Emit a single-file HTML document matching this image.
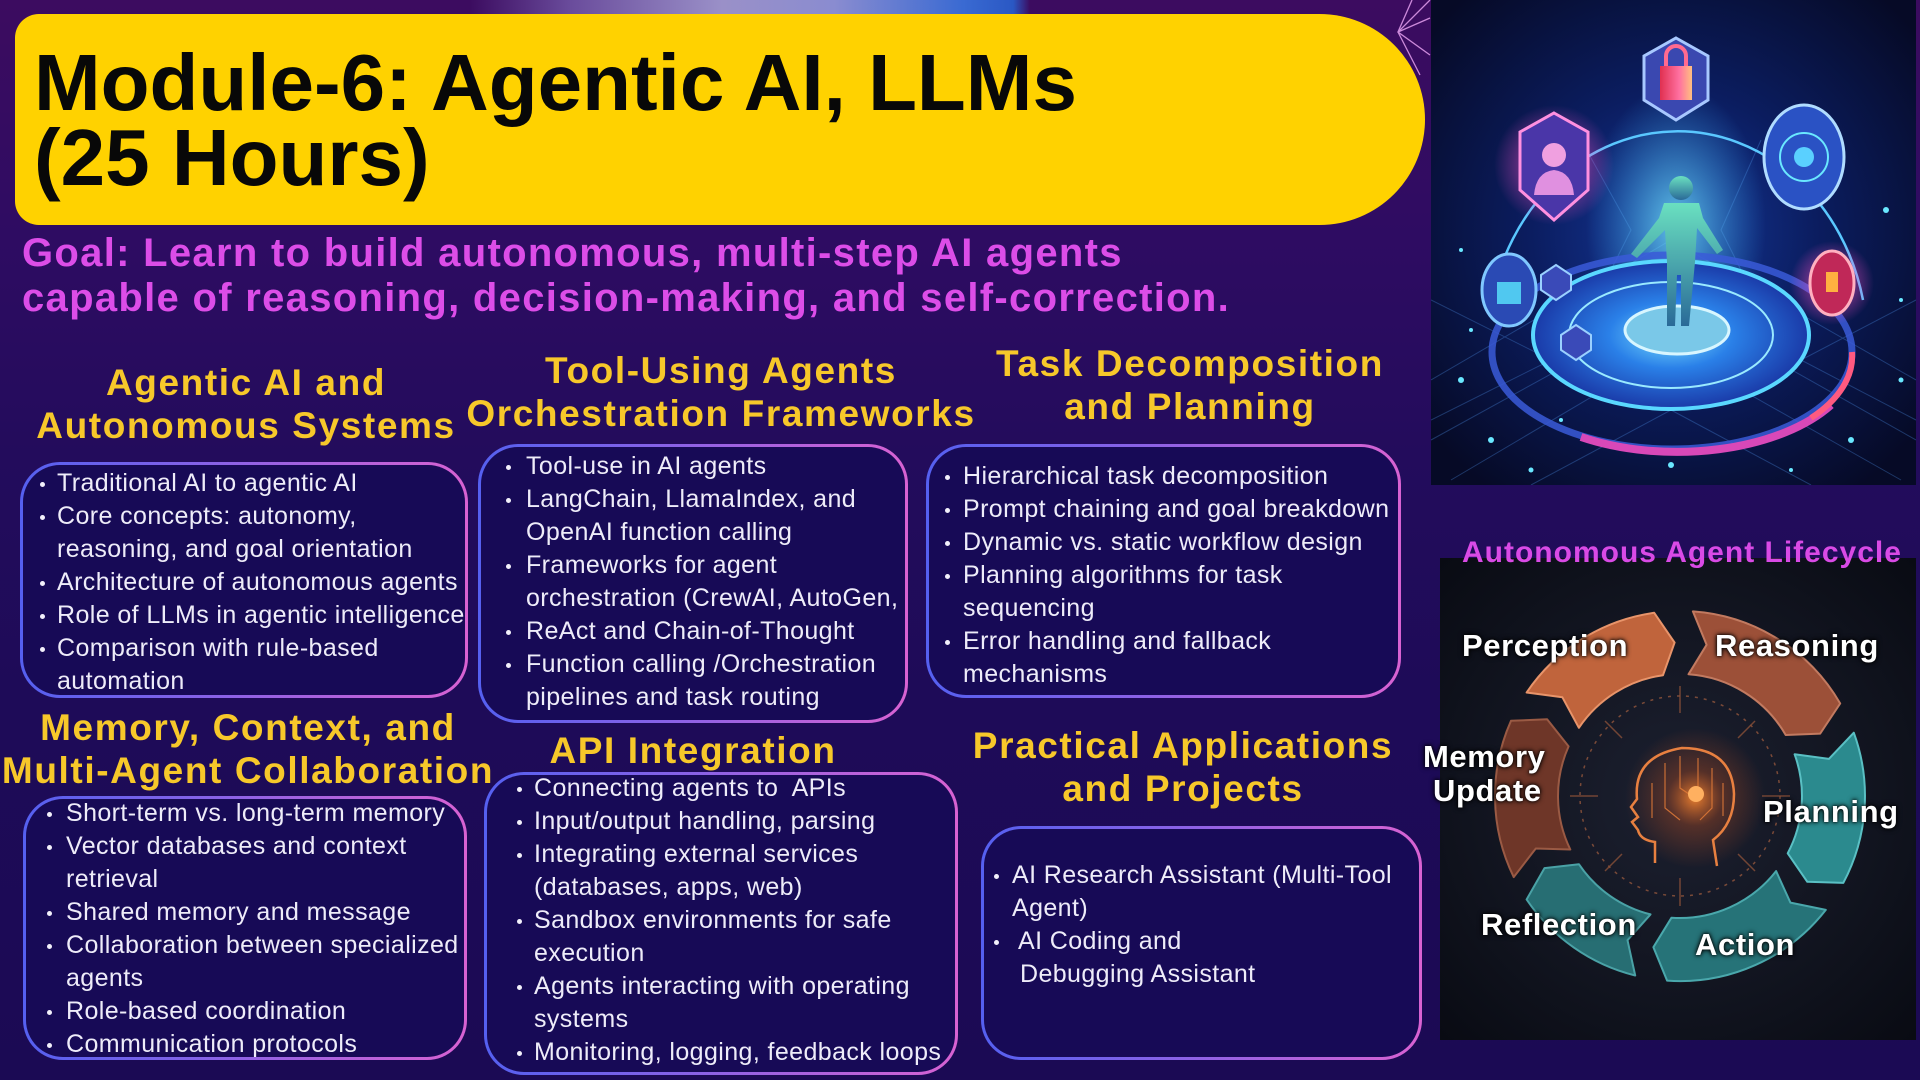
<!DOCTYPE html>
<html><head><meta charset="utf-8">
<style>
*{margin:0;padding:0;box-sizing:border-box}
html,body{width:1920px;height:1080px;overflow:hidden}
body{position:relative;background:linear-gradient(180deg,#3c0c60 0%,#2e0c62 22%,#230c5c 42%,#1e0b58 65%,#1b0a54 100%);font-family:"Liberation Sans",Arial,sans-serif}
.abs{position:absolute}
.glow{left:470px;top:0;width:560px;height:15px;background:linear-gradient(90deg,rgba(80,30,120,0) 0%,#6a4c9c 18%,#9a90c8 45%,#8a8cd0 65%,#3a6ad2 88%,#2a58c4 97%,rgba(70,14,94,0) 100%)}
.banner{left:15px;top:14px;width:1410px;height:211px;background:#ffd200;border-radius:24px 106px 106px 24px}
.title{left:34px;top:45px;font-size:80px;line-height:75px;font-weight:bold;color:#080808;white-space:nowrap}
.goal{left:22px;top:231px;font-size:40px;line-height:45px;font-weight:bold;color:#dc4de8;letter-spacing:1.3px;white-space:nowrap}
.h{width:700px;text-align:center;font-size:37px;line-height:43px;font-weight:bold;color:#f7c82a;letter-spacing:1.6px;white-space:nowrap}
.box{border:3px solid transparent;border-radius:40px;background:linear-gradient(#170a56,#170a56) padding-box,linear-gradient(90deg,#5560f0,#8a62e6 45%,#d862d2) border-box}
.t{font-size:25px;line-height:33px;color:#eeecf9;letter-spacing:0.4px;white-space:nowrap}
.t div{position:relative}
.t .b::before{content:"";position:absolute;left:var(--bl);top:15px;width:5px;height:5px;border-radius:50%;background:#f2f0fb}
.lbl{font-size:31px;line-height:31px;font-weight:bold;color:#fff;letter-spacing:0.6px;white-space:nowrap;text-shadow:0 0 3px #000,0 0 6px #000}
</style></head>
<body>
<div class="abs glow"></div>
<div class="abs banner"></div>
<div class="abs title">Module-6: Agentic AI, LLMs<br>(25 Hours)</div>

<svg class="abs" style="left:1390px;top:0" width="45" height="80" viewBox="0 0 45 80">
<g stroke="#e6a0f0" stroke-width="1.3" fill="none" opacity="0.85">
<path d="M40 0 L8 32 L40 55"/><path d="M8 32 L30 75"/><path d="M40 18 L8 32"/><path d="M22 0 L8 32"/>
</g></svg>

<div class="abs goal">Goal: Learn to build autonomous, multi-step AI agents<br>capable of reasoning, decision-making, and self-correction.</div>

<!-- headings -->
<div class="abs h" style="left:-104px;top:361px">Agentic AI and<br>Autonomous Systems</div>
<div class="abs h" style="left:371px;top:349px">Tool-Using Agents<br>Orchestration Frameworks</div>
<div class="abs h" style="left:840px;top:342px">Task Decomposition<br>and Planning</div>
<div class="abs h" style="left:-102px;top:706px">Memory, Context, and<br>Multi-Agent Collaboration</div>
<div class="abs h" style="left:343px;top:729px">API Integration</div>
<div class="abs h" style="left:833px;top:724px">Practical Applications<br>and Projects</div>

<!-- boxes -->
<div class="abs box" style="left:20px;top:462px;width:448px;height:236px"></div>
<div class="abs box" style="left:478px;top:444px;width:430px;height:279px"></div>
<div class="abs box" style="left:926px;top:444px;width:475px;height:254px"></div>
<div class="abs box" style="left:23px;top:796px;width:444px;height:264px"></div>
<div class="abs box" style="left:484px;top:772px;width:474px;height:303px"></div>
<div class="abs box" style="left:981px;top:826px;width:441px;height:234px"></div>

<div class="abs t" style="left:57px;top:467px;--bl:-17px">
<div class="b">Traditional AI to agentic AI</div>
<div class="b">Core concepts: autonomy,</div>
<div>reasoning, and goal orientation</div>
<div class="b">Architecture of autonomous agents</div>
<div class="b">Role of LLMs in agentic intelligence</div>
<div class="b">Comparison with rule-based</div>
<div>automation</div>
</div>

<div class="abs t" style="left:526px;top:450px;--bl:-20px">
<div class="b">Tool-use in AI agents</div>
<div class="b">LangChain, LlamaIndex, and</div>
<div>OpenAI function calling</div>
<div class="b">Frameworks for agent</div>
<div>orchestration (CrewAI, AutoGen,</div>
<div class="b">ReAct and Chain-of-Thought</div>
<div class="b">Function calling /Orchestration</div>
<div>pipelines and task routing</div>
</div>

<div class="abs t" style="left:963px;top:460px;--bl:-18px">
<div class="b">Hierarchical task decomposition</div>
<div class="b">Prompt chaining and goal breakdown</div>
<div class="b">Dynamic vs. static workflow design</div>
<div class="b">Planning algorithms for task</div>
<div>sequencing</div>
<div class="b">Error handling and fallback</div>
<div>mechanisms</div>
</div>

<div class="abs t" style="left:66px;top:797px;--bl:-19px">
<div class="b">Short-term vs. long-term memory</div>
<div class="b">Vector databases and context</div>
<div>retrieval</div>
<div class="b">Shared memory and message</div>
<div class="b">Collaboration between specialized</div>
<div>agents</div>
<div class="b">Role-based coordination</div>
<div class="b">Communication protocols</div>
</div>

<div class="abs t" style="left:534px;top:772px;--bl:-17px">
<div class="b">Connecting agents to&nbsp; APIs</div>
<div class="b">Input/output handling, parsing</div>
<div class="b">Integrating external services</div>
<div>(databases, apps, web)</div>
<div class="b">Sandbox environments for safe</div>
<div>execution</div>
<div class="b">Agents interacting with operating</div>
<div>systems</div>
<div class="b">Monitoring, logging, feedback loops</div>
</div>

<div class="abs t" style="left:1012px;top:859px;--bl:-18px">
<div class="b">AI Research Assistant (Multi-Tool</div>
<div>Agent)</div>
<div class="b" style="padding-left:6px;--bl:-18px">AI Coding and</div>
<div style="padding-left:8px">Debugging Assistant</div>
</div>

<!-- top-right illustration -->
<svg class="abs" style="left:1431px;top:0" width="485" height="485" viewBox="0 0 485 485">
<defs>
<radialGradient id="ibg" cx="50%" cy="48%" r="65%"><stop offset="0" stop-color="#15389a"/><stop offset="0.45" stop-color="#0b1d60"/><stop offset="1" stop-color="#060a26"/></radialGradient>
<radialGradient id="disk" cx="50%" cy="50%" r="50%"><stop offset="0" stop-color="#7ae0ff"/><stop offset="0.45" stop-color="#2a80e8"/><stop offset="1" stop-color="#1a3aa8"/></radialGradient>
<radialGradient id="beam" cx="50%" cy="50%" r="50%"><stop offset="0" stop-color="#7af0ff" stop-opacity="0.75"/><stop offset="1" stop-color="#3ab0ff" stop-opacity="0"/></radialGradient>
<radialGradient id="pk" cx="50%" cy="50%" r="50%"><stop offset="0" stop-color="#ff50c8" stop-opacity="0.8"/><stop offset="1" stop-color="#ff50c8" stop-opacity="0"/></radialGradient>
<linearGradient id="fig" x1="0" y1="0" x2="0" y2="1"><stop offset="0" stop-color="#6ae0c0"/><stop offset="1" stop-color="#2a6a98"/></linearGradient>
<linearGradient id="lock" x1="0" y1="0" x2="1" y2="0"><stop offset="0" stop-color="#e03050"/><stop offset="0.6" stop-color="#ff70a0"/><stop offset="1" stop-color="#ffc080"/></linearGradient>
</defs>
<rect width="485" height="485" fill="url(#ibg)"/>
<g stroke="#4a8ae0" stroke-width="1" opacity="0.35" fill="none">
<path d="M0 380 L240 240 L485 380"/><path d="M0 440 L200 330"/><path d="M485 440 L290 330"/><path d="M20 480 L240 350 L470 480"/>
<path d="M0 300 L120 360 L0 420"/><path d="M485 300 L370 360 L485 420"/><path d="M100 485 L240 410 L380 485"/>
<path d="M150 140 L200 230 L150 330"/><path d="M330 140 L290 230 L340 330"/>
</g>
<ellipse cx="245" cy="225" rx="90" ry="140" fill="url(#beam)"/>
<ellipse cx="241" cy="352" rx="180" ry="97" fill="none" stroke="#3a5ad8" stroke-width="7" opacity="0.85"/>
<path d="M150 437 A180 97 0 0 0 400 405" fill="none" stroke="#d848b8" stroke-width="8"/>
<path d="M380 418 A180 97 0 0 0 421 352" fill="none" stroke="#ff5a80" stroke-width="6"/>
<ellipse cx="240" cy="335" rx="138" ry="74" fill="url(#disk)" stroke="#5ad8ff" stroke-width="4"/>
<ellipse cx="240" cy="335" rx="102" ry="53" fill="none" stroke="#9aeaff" stroke-width="2"/>
<polygon points="85,325 100,315 115,325 115,340 100,350 85,340" fill="#3a4ab8" stroke="#9ad0ff" stroke-width="2" transform="translate(25,-50)"/>
<polygon points="85,325 100,315 115,325 115,340 100,350 85,340" fill="#3a4ab8" stroke="#9ad0ff" stroke-width="2" transform="translate(45,10)"/>
<ellipse cx="246" cy="330" rx="52" ry="24" fill="#7ac8e8" stroke="#d8f6ff" stroke-width="3"/>
<path d="M60 305 A190 215 0 0 1 432 300" fill="none" stroke="#5ac8ff" stroke-width="2.5"/>
<g fill="url(#fig)">
<circle cx="250" cy="188" r="12"/>
<path d="M233 203 L268 203 L272 218 L292 250 L286 254 L266 228 L264 262 L258 326 L250 326 L250 275 L246 275 L244 326 L236 326 L236 262 L234 230 L206 258 L200 254 L228 218 Z"/>
</g>
<polygon points="245,38 277,56 277,100 245,120 213,100 213,56" fill="#3a48b0" stroke="#a8c8ff" stroke-width="3"/>
<rect x="229" y="66" width="32" height="34" fill="url(#lock)"/>
<path d="M235 66 V56 A10 10 0 0 1 255 56 V66" fill="none" stroke="#ff6a90" stroke-width="4"/>
<circle cx="123" cy="165" r="60" fill="url(#pk)"/>
<polygon points="123,113 157,132 157,190 123,220 89,190 89,132" fill="#4a36a8" stroke="#ff90e0" stroke-width="3"/>
<circle cx="123" cy="155" r="12" fill="#f0a0e0"/><path d="M103 195 Q105 172 123 170 Q141 172 143 195 Z" fill="#e090e0"/>
<ellipse cx="373" cy="157" rx="40" ry="52" fill="#2a52c4" stroke="#b0dcff" stroke-width="3"/>
<circle cx="373" cy="157" r="24" fill="none" stroke="#6ae8ff" stroke-width="2"/><circle cx="373" cy="157" r="10" fill="#5ad0ff"/>
<ellipse cx="78" cy="290" rx="27" ry="36" fill="#2a4ab4" stroke="#80c8ff" stroke-width="3"/>
<rect x="66" y="282" width="24" height="22" fill="#50c8f0"/>
<circle cx="401" cy="283" r="42" fill="url(#pk)"/>
<ellipse cx="401" cy="283" rx="22" ry="32" fill="#c02858" stroke="#ffb0c0" stroke-width="3"/>
<rect x="395" y="272" width="12" height="20" fill="#ffb040"/>
<g fill="#6ae8ff">
<circle cx="30" cy="380" r="3"/><circle cx="60" cy="440" r="3"/><circle cx="40" cy="330" r="2"/><circle cx="100" cy="470" r="2.5"/>
<circle cx="240" cy="465" r="3"/><circle cx="420" cy="440" r="3"/><circle cx="470" cy="380" r="2.5"/><circle cx="455" cy="210" r="3"/>
<circle cx="470" cy="300" r="2"/><circle cx="30" cy="250" r="2"/><circle cx="360" cy="470" r="2"/><circle cx="130" cy="420" r="2"/>
</g>
</svg>

<!-- lifecycle -->
<svg class="abs" style="left:1440px;top:558px" width="476" height="482" viewBox="0 0 476 482">
<defs>
<radialGradient id="lbg" cx="50%" cy="50%" r="70%"><stop offset="0" stop-color="#1c2030"/><stop offset="0.6" stop-color="#11141f"/><stop offset="1" stop-color="#090b13"/></radialGradient>
<radialGradient id="hg" cx="50%" cy="50%" r="50%"><stop offset="0" stop-color="#ff8a30" stop-opacity="0.9"/><stop offset="0.4" stop-color="#c05020" stop-opacity="0.35"/><stop offset="1" stop-color="#c05020" stop-opacity="0"/></radialGradient>
</defs>
<rect width="476" height="482" fill="url(#lbg)"/>
<circle cx="240" cy="238" r="100" fill="none" stroke="#7a4a38" stroke-width="1.5" stroke-dasharray="3 6"/>
<g stroke="#8a5038" stroke-width="1.5" opacity="0.8">
<line x1="240" y1="128" x2="240" y2="155"/><line x1="240" y1="320" x2="240" y2="348"/>
<line x1="130" y1="238" x2="158" y2="238"/><line x1="322" y1="238" x2="350" y2="238"/>
<line x1="165" y1="163" x2="182" y2="180"/><line x1="315" y1="163" x2="298" y2="180"/>
<line x1="165" y1="313" x2="182" y2="296"/><line x1="315" y1="313" x2="298" y2="296"/>
</g>
<circle cx="255" cy="240" r="70" fill="url(#hg)"/>
<path d="M215 305 L215 284 Q200 282 198 272 L192 264 L198 259 L191 249 L197 241 Q193 198 242 190 Q292 190 294 236 Q294 266 273 282 L277 308" fill="none" stroke="#e88040" stroke-width="2.5"/>
<g stroke="#e07a38" stroke-width="1.2" fill="none" opacity="0.85">
<path d="M225 205 L225 250 L240 262"/><path d="M240 198 L240 230 L255 240"/><path d="M258 200 L258 232"/><path d="M272 210 L272 250 L260 262"/><path d="M283 225 L283 258"/><path d="M212 225 L212 260"/>
</g>
<circle cx="256" cy="236" r="8" fill="#ffb060"/>
<g stroke-width="2" stroke-linejoin="round">
<path d="M73.7 319.1 A185 185 0 0 1 71.0 162.8 L107.1 161.3 L128.6 188.4 A122 122 0 0 0 130.3 291.5 L95.8 290.5 Z" fill="#6e3628" stroke="#9a5a44"/>
<path d="M86.6 134.5 A185 185 0 0 1 214.2 54.8 L234.6 84.6 L223.0 117.2 A122 122 0 0 0 138.9 169.8 L122.4 139.3 Z" fill="#c0643c" stroke="#e8946a"/>
<path d="M252.9 53.4 A185 185 0 0 1 400.2 145.5 L380.2 175.6 L345.7 177 A122 122 0 0 0 248.5 116.3 L266.6 86.8 Z" fill="#9c5038" stroke="#c27a60"/>
<path d="M413.8 174.7 A185 185 0 0 1 403.3 324.9 L367.3 323.8 L347.7 295.3 A122 122 0 0 0 354.6 196.3 L388.9 200.9 Z" fill="#2b8a8e" stroke="#5ac0c4"/>
<path d="M385.8 351.9 A185 185 0 0 1 227.1 422.6 L213.4 389.2 L231.5 359.7 A122 122 0 0 0 336.1 313.1 L350.4 344.6 Z" fill="#267378" stroke="#4aa8ac"/>
<path d="M195.2 417.5 A185 185 0 0 1 86.6 341.5 L104.5 310.1 L138.9 306.2 A122 122 0 0 0 210.5 356.4 L187.5 382.2 Z" fill="#276e73" stroke="#4aa2a6"/>
</g>
</svg>
<div class="abs" style="left:1462px;top:538px;font-size:30px;line-height:30px;font-weight:bold;color:#d94ae6;letter-spacing:1px;white-space:nowrap">Autonomous Agent Lifecycle</div>
<div class="abs lbl" style="left:1462px;top:630px">Perception</div>
<div class="abs lbl" style="left:1715px;top:630px">Reasoning</div>
<div class="abs lbl" style="left:1423px;top:741px">Memory</div>
<div class="abs lbl" style="left:1433px;top:775px">Update</div>
<div class="abs lbl" style="left:1763px;top:796px">Planning</div>
<div class="abs lbl" style="left:1481px;top:909px">Reflection</div>
<div class="abs lbl" style="left:1695px;top:929px">Action</div>
</body></html>
